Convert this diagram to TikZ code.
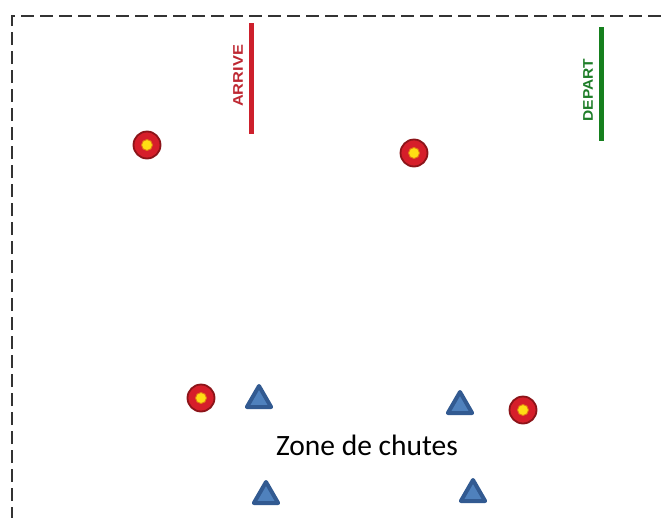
\documentclass[tikz,border=0pt]{standalone}
\usepackage{fontspec}
\setmainfont{Carlito}
\newfontfamily\barrefont{Liberation Sans}
\usetikzlibrary{shapes.geometric}

\definecolor{rougeBarre}{RGB}{205,32,44}
\definecolor{rougeTexte}{RGB}{190,40,50}
\definecolor{vertBarre}{RGB}{22,128,30}
\definecolor{vertTexte}{RGB}{30,125,40}
\definecolor{cibleRouge}{RGB}{214,30,42}
\definecolor{cibleBord}{RGB}{140,20,25}
\definecolor{cibleJaune}{RGB}{255,222,20}
\definecolor{cibleOrange}{RGB}{225,120,20}
\definecolor{plotBleu}{RGB}{79,129,189}
\definecolor{plotBord}{RGB}{50,90,145}

\tikzset{
  cible/.style={circle, minimum size=27pt, inner sep=0pt, fill=cibleRouge,
    draw=cibleBord, line width=1.8pt,
    path picture={\filldraw[fill=cibleJaune, draw=cibleOrange, line width=0.9pt]
      (path picture bounding box.center) circle (5.5pt);}},
  plot/.style={regular polygon, regular polygon sides=3, minimum size=28pt,
    inner sep=0pt, fill=plotBleu, draw=plotBord, line width=4pt, line join=round},
  barre/.style={line width=5pt},
  etiquette/.style={rotate=90, font=\barrefont\bfseries\fontsize{14}{14}\selectfont}
}

\begin{document}
\begin{tikzpicture}[x=1pt, y=-1pt]
    \useasboundingbox (0,0) rectangle (667,517);

    % Terrain en pointilles
    \draw[gray!40!black, line width=1.3pt, dash pattern=on 13pt off 6pt]
        (12,520) -- (12,16) -- (670,16);

    % Barres d'arrivee et de depart
    \draw[barre, rougeBarre] (251,23) -- (251,134);
    \node[etiquette, text=rougeTexte] (arrive) at (238,76) {\scalebox{1.17}[1]{ARRIVE}};
    \draw[barre, vertBarre] (601,27) -- (601,141);
    \node[etiquette, text=vertTexte] (depart) at (588,90) {\scalebox{1.11}[1]{DEPART}};

    % Cibles
    \node[cible] (c1) at (147,145) {};
    \node[cible] (c2) at (414,153) {};
    \node[cible] (c3) at (201,398) {};
    \node[cible] (c4) at (523,410) {};

    % Plots de la zone de chutes
    \node[plot] (p1) at (259,400) {};
    \node[plot] (p2) at (460,406) {};
    \node[plot] (p3) at (266,496) {};
    \node[plot] (p4) at (473,494) {};

    \node[anchor=base, font=\fontsize{29.5}{29.5}\selectfont] (zone) at (367,455) {Zone de chutes};
\end{tikzpicture}
\end{document}
